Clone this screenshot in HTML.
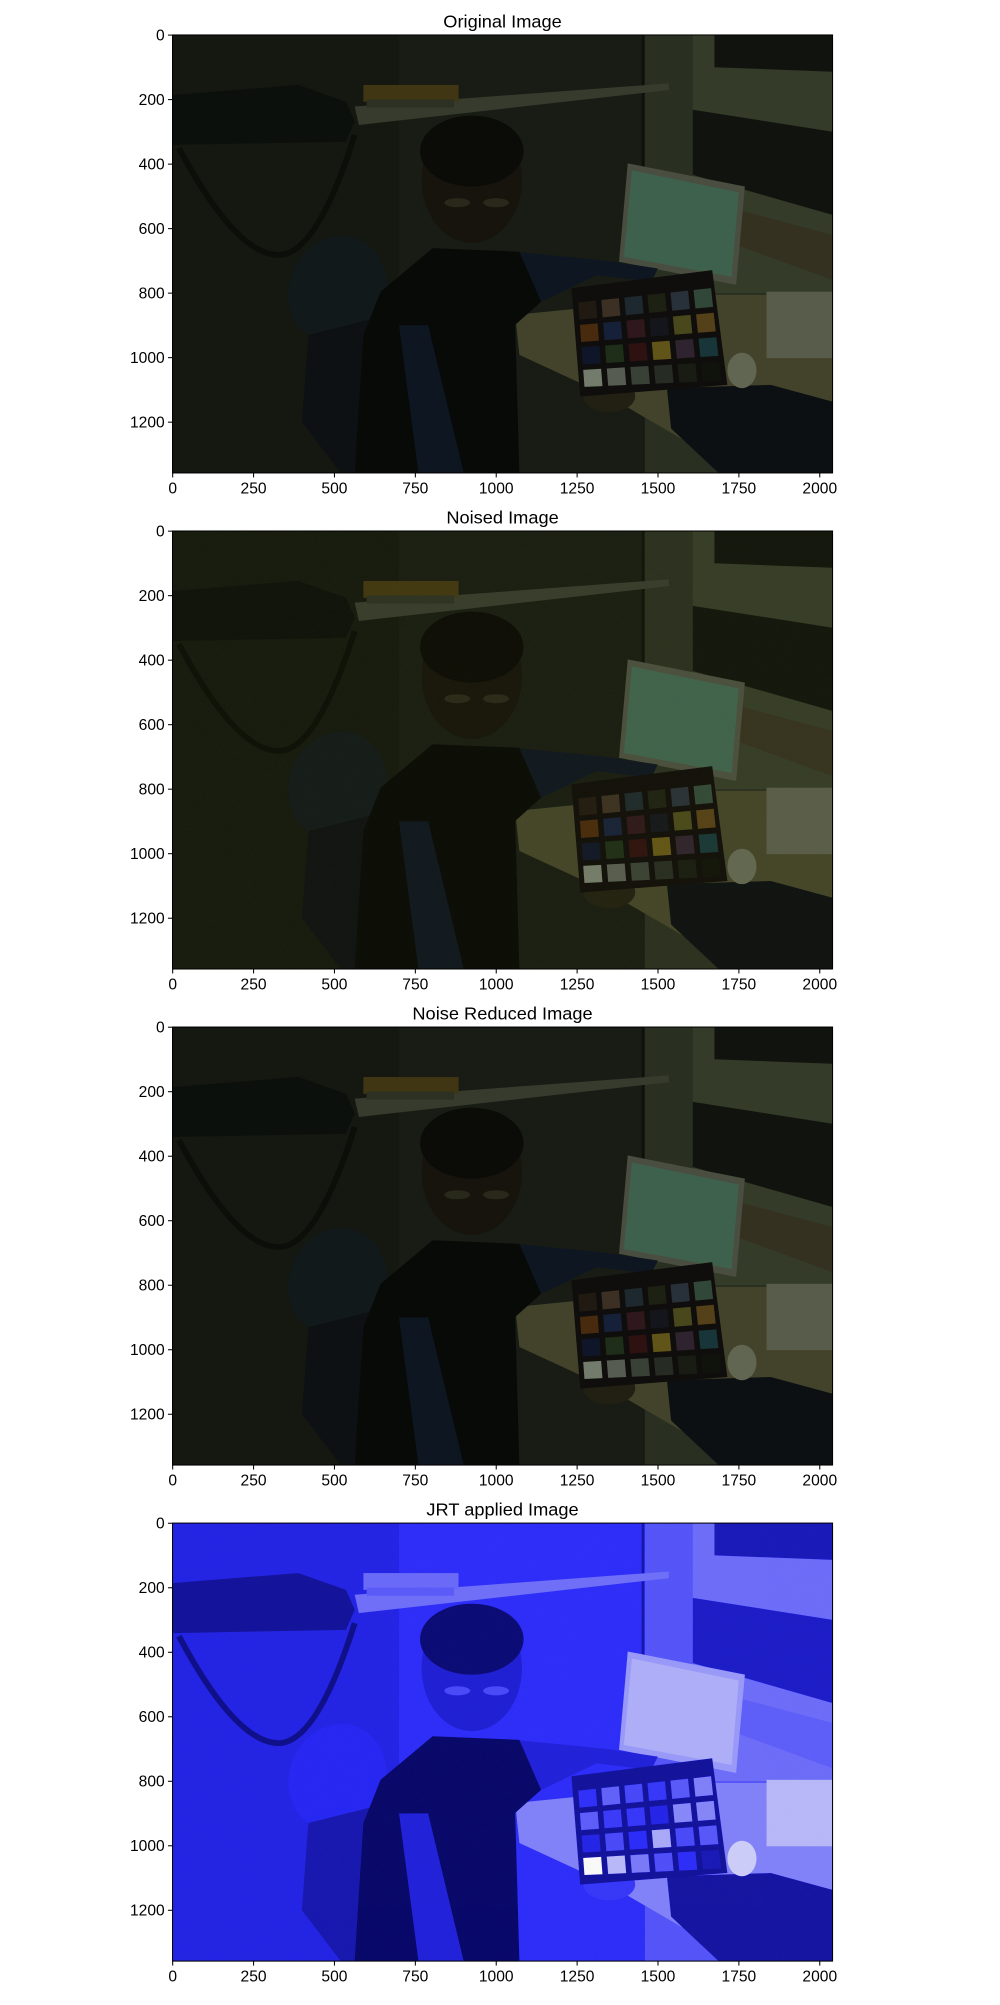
<!DOCTYPE html>
<html><head><meta charset="utf-8"><style>
html,body{margin:0;padding:0;background:#fff;}
svg text{font-family:"Liberation Sans","DejaVu Sans",sans-serif;fill:#000;}
</style></head><body>
<svg id="fig" xmlns="http://www.w3.org/2000/svg" width="1000" height="2000" viewBox="0 0 768 1568" preserveAspectRatio="none">
<defs>
  <filter id="jrt" color-interpolation-filters="sRGB">
    <feColorMatrix type="matrix" values="0.54 1.08 0.18 0 -0.07  0.54 1.08 0.18 0 -0.07  2.4 4.8 0.8 0 0.05  0 0 0 1 0"/>
  </filter>
  <filter id="dim" color-interpolation-filters="sRGB">
    <feComponentTransfer>
      <feFuncR type="linear" slope="0.8"/>
      <feFuncG type="linear" slope="0.8"/>
      <feFuncB type="linear" slope="0.8"/>
    </feComponentTransfer>
  </filter>
  <filter id="noise" x="0" y="0" width="100%" height="100%">
    <feTurbulence type="fractalNoise" baseFrequency="0.9" numOctaves="1" seed="3"/>
    <feColorMatrix type="matrix" values="1 0 0 0 0  0 1 0 0 0  0 0 0 0 0  0 0 0 0.5 0"/>
  </filter>
  <g id="scene">
    <rect x="0" y="0" width="2040" height="1358" fill="#1a1e14"/>
    <rect x="700" y="0" width="760" height="1358" fill="#1f2419"/>
    <rect x="1460" y="0" width="580" height="1358" fill="#343b2a"/>
    <rect x="1608" y="0" width="432" height="800" fill="#424a34"/>
    <polygon points="1675,0 2040,0 2040,114 1675,100" fill="#141812"/>
    <polygon points="1608,232 2040,300 2040,558 1608,434" fill="#161a12"/>
    <polygon points="1740,540 2040,620 2040,760 1740,650" fill="#423e2a"/>
    <rect x="1450" y="0" width="8" height="760" fill="#12160e"/>
    <polygon points="563,222 1534,150 1534,171 576,279" fill="#444a3a"/>
    <rect x="590" y="155" width="294" height="52" fill="#524418"/>
    <rect x="600" y="200" width="270" height="25" fill="#383e2e"/>
    <polygon points="0,186 389,155 536,207 563,269 536,331 0,341" fill="#101410"/>
    <path d="M20,351 Q200,690 335,682 Q450,670 563,310" stroke="#0e120c" stroke-width="18" fill="none"/>
    <ellipse cx="510" cy="790" rx="150" ry="170" transform="rotate(20 510 790)" fill="#172022"/>
    <polygon points="420,930 620,880 640,1358 520,1358 400,1200" fill="#121618"/>
    <polygon points="1059,868 1675,806 2040,806 2040,1358 1755,1358 1340,1116 1072,992" fill="#545436"/>
    <polygon points="1528,1095 1849,1085 2040,1137 2040,1358 1688,1358 1541,1220" fill="#101418"/>
    <polygon points="1407,398 1769,470 1742,775 1380,703" fill="#5c6250"/>
    <polygon points="1420,420 1750,488 1728,750 1395,688" fill="#4e7a62"/>
    <rect x="1836" y="796" width="204" height="206" fill="#6e745e"/>
    <ellipse cx="1760" cy="1040" rx="45" ry="55" fill="#7a8068"/>
    <polygon points="1059,672 1340,700 1500,724 1480,765 1310,745 1072,860" fill="#121c2a"/>
    <polygon points="643,796 804,661 1072,672 1139,827 1059,899 1072,1358 563,1358 590,930" fill="#0b0d0b"/>
    <polygon points="700,900 790,900 900,1358 760,1358" fill="#121c2a"/>
    <ellipse cx="925" cy="450" rx="155" ry="195" fill="#1c1a11"/>
    <ellipse cx="925" cy="360" rx="160" ry="110" fill="#0e0e0a"/>
    <ellipse cx="880" cy="520" rx="40" ry="14" fill="#333322"/>
    <ellipse cx="1000" cy="520" rx="40" ry="14" fill="#333322"/>
    <ellipse cx="1350" cy="1120" rx="80" ry="50" fill="#2a2818"/>
    <polygon points="1233,785 1668,729 1715,1085 1260,1121" fill="#141210"/>
    <g id="checker"></g>
  </g>
</defs>
</svg>
<script>
var svgNS = "http://www.w3.org/2000/svg";
var fig = document.getElementById('fig');
var titles = ["Original Image", "Noised Image", "Noise Reduced Image", "JRT applied Image"];
var xTicks = [0, 250, 500, 750, 1000, 1250, 1500, 1750, 2000];
var yTicks = [0, 200, 400, 600, 800, 1000, 1200];
var imgW = 2040, imgH = 1358;
var patchColors = ["#2a2118","#4a3c2c","#25343a","#252a1a","#323c48","#3e5a48",
  "#5a3512","#1c2a48","#3a1e24","#1a1c24","#5a5a24","#6a5020",
  "#141c34","#263a1e","#3a1616","#7a6a1e","#3a2c3a","#1e4448",
  "#909a88","#6c7466","#485044","#30382c","#1e2418","#141810"];
var chk = document.getElementById('checker');
var c00=[1245,822], c10=[1672,775], c01=[1265,1100], c11=[1705,1080];
function bl(u,v){return [c00[0]*(1-u)*(1-v)+c10[0]*u*(1-v)+c01[0]*(1-u)*v+c11[0]*u*v,
 c00[1]*(1-u)*(1-v)+c10[1]*u*(1-v)+c01[1]*(1-u)*v+c11[1]*u*v];}
patchColors.forEach(function(c,i){
  var col=i%6, row=Math.floor(i/6), g=0.12;
  var pts=[bl((col+g)/6,(row+g)/4),bl((col+1-g)/6,(row+g)/4),bl((col+1-g)/6,(row+1-g)/4),bl((col+g)/6,(row+1-g)/4)];
  var p=document.createElementNS(svgNS,'polygon');
  p.setAttribute('points',pts.map(function(q){return q.join(',');}).join(' '));
  p.setAttribute('fill',c);
  
  
  chk.appendChild(p);
});
var L=132.5, W=506.9, H=343.4, tops=[27.4,416.3,805.2,1194.1];
function xs(v){return L+(v+0.5)/imgW*W;}
function el(tag,attrs,parent){var e=document.createElementNS(svgNS,tag);for(var k in attrs)e.setAttribute(k,attrs[k]);parent.appendChild(e);return e;}
tops.forEach(function(T,i){
  function ys(v){return T+(v+0.5)/imgH*H;}
  var g=el('g',{},fig);
  
  
  var t=el('text',{x:L+W/2,y:T-6,'text-anchor':'middle','font-size':'14'},g);
  t.textContent=titles[i];
  
  
  var inner=el('svg',{x:L,y:T,width:W,height:H,viewBox:'0 0 '+imgW+' '+imgH,preserveAspectRatio:'none'},g);
  
  
  var u=el('use',{href:'#scene'},inner);
  u.setAttribute('filter', i===3 ? 'url(#jrt)' : 'url(#dim)');
  if(i===1||i===3){
    var n=el('rect',{x:0,y:0,width:imgW,height:imgH,filter:'url(#noise)',opacity:0.12},inner);
    
    
  }
  var fr=el('rect',{x:L,y:T,width:W,height:H,fill:'none',stroke:'#000','stroke-width':0.8},g);
  
  
  xTicks.forEach(function(v){
    var x=xs(v);
    var tk=el('line',{x1:x,x2:x,y1:T+H,y2:T+H+3.5,stroke:'#000','stroke-width':0.8},g);
    
    
    var lb=el('text',{x:x,y:T+H+16,'text-anchor':'middle','font-size':'12'},g);
    lb.textContent=v;
    
    
  });
  yTicks.forEach(function(v){
    var y=ys(v);
    var tk=el('line',{x1:L-3.5,x2:L,y1:y,y2:y,stroke:'#000','stroke-width':0.8},g);
    
    
    var lb=el('text',{x:L-6,y:y+4.2,'text-anchor':'end','font-size':'12'},g);
    lb.textContent=v;
    
    
  });
});
</script>
</body></html>
